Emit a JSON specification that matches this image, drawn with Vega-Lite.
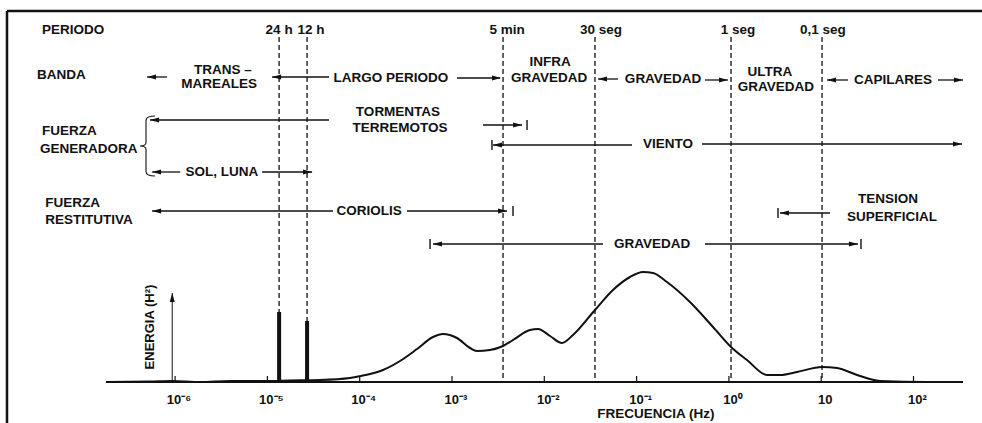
{
  "$schema": "https://vega.github.io/schema/vega-lite/v6.json",
  "width": 975,
  "height": 412,
  "autosize": {"type": "none"},
  "padding": {"left": 7, "top": 11, "right": 0, "bottom": 0},
  "background": "white",
  "config": {"view": {"stroke": null}},
  "datasets": {
    "curva": [
      {"lf": -6.749, "e": 0}, {"lf": -6.271, "e": 0.5}, {"lf": -6.031, "e": 1}, {"lf": -5.73, "e": 0},
      {"lf": -5.405, "e": 1}, {"lf": -5.026, "e": 1}, {"lf": -4.756, "e": 1.5}, {"lf": -4.431, "e": 2},
      {"lf": -4.106, "e": 4}, {"lf": -3.963, "e": 6.5}, {"lf": -3.747, "e": 12}, {"lf": -3.563, "e": 21},
      {"lf": -3.379, "e": 33}, {"lf": -3.206, "e": 45}, {"lf": -3.098, "e": 48}, {"lf": -2.946, "e": 44},
      {"lf": -2.805, "e": 34}, {"lf": -2.729, "e": 31}, {"lf": -2.589, "e": 32}, {"lf": -2.447, "e": 36},
      {"lf": -2.339, "e": 42}, {"lf": -2.155, "e": 52}, {"lf": -2.068, "e": 53}, {"lf": -1.938, "e": 46},
      {"lf": -1.808, "e": 39}, {"lf": -1.689, "e": 47}, {"lf": -1.451, "e": 72}, {"lf": -1.256, "e": 92},
      {"lf": -1.072, "e": 105}, {"lf": -0.931, "e": 110}, {"lf": -0.822, "e": 109}, {"lf": -0.671, "e": 100},
      {"lf": -0.422, "e": 80}, {"lf": -0.172, "e": 55}, {"lf": 0.034, "e": 34}, {"lf": 0.196, "e": 22},
      {"lf": 0.413, "e": 7}, {"lf": 0.553, "e": 7}, {"lf": 0.737, "e": 10}, {"lf": 1.009, "e": 15},
      {"lf": 1.172, "e": 14}, {"lf": 1.388, "e": 7}, {"lf": 1.637, "e": 1}, {"lf": 2.146, "e": 0},
      {"lf": 2.536, "e": 0}
    ],
    "picos": [
      {"periodo": "24 h", "lf": -4.873, "e": 70},
      {"periodo": "12 h", "lf": -4.57, "e": 61}
    ],
    "periodos": [
      {"periodo": "24 h", "lf": -4.873, "v": 345, "v2": 70},
      {"periodo": "12 h", "lf": -4.57, "v": 345, "v2": 61},
      {"periodo": "5 min", "lf": -2.447, "v": 345, "v2": 0},
      {"periodo": "30 seg", "lf": -1.451, "v": 345, "v2": 0},
      {"periodo": "1 seg", "lf": 0.023, "v": 345, "v2": 0},
      {"periodo": "0,1 seg", "lf": 1.009, "v": 345, "v2": 0}
    ],
    "marcas": [
      {"lf": -6, "v": 0, "v2": 6, "etiqueta": "10⁻⁶", "ve": -18},
      {"lf": -5, "v": 0, "v2": 6, "etiqueta": "10⁻⁵", "ve": -18},
      {"lf": -4, "v": 0, "v2": 6, "etiqueta": "10⁻⁴", "ve": -18},
      {"lf": -3, "v": 0, "v2": 6, "etiqueta": "10⁻³", "ve": -18},
      {"lf": -2, "v": 0, "v2": 6, "etiqueta": "10⁻²", "ve": -18},
      {"lf": -1, "v": 0, "v2": 6, "etiqueta": "10⁻¹", "ve": -18},
      {"lf": 0, "v": 0, "v2": 6, "etiqueta": "10⁰", "ve": -18},
      {"lf": 1, "v": 0, "v2": 6, "etiqueta": "10", "ve": -18},
      {"lf": 2, "v": 0, "v2": 6, "etiqueta": "10²", "ve": -18}
    ],
    "segmentos": [
      {"lf": -6.304, "lf2": -6.087, "v": 305},
      {"lf": -4.949, "lf2": -4.332, "v": 305},
      {"lf": -2.946, "lf2": -2.48, "v": 304},
      {"lf": -1.418, "lf2": -1.201, "v": 303},
      {"lf": -0.259, "lf2": -0.01, "v": 302},
      {"lf": 1.063, "lf2": 1.29, "v": 302},
      {"lf": 2.265, "lf2": 2.536, "v": 302},
      {"lf": -6.271, "lf2": -4.332, "v": 262},
      {"lf": -2.664, "lf2": -2.241, "v": 257},
      {"lf": -2.556, "lf2": -1.05, "v": 237},
      {"lf": -0.292, "lf2": 2.525, "v": 238},
      {"lf": -6.249, "lf2": -5.944, "v": 210},
      {"lf": -5.057, "lf2": -4.516, "v": 210},
      {"lf": -6.249, "lf2": -4.289, "v": 171},
      {"lf": -3.488, "lf2": -2.404, "v": 171},
      {"lf": 0.553, "lf2": 1.095, "v": 169},
      {"lf": -3.206, "lf2": -1.364, "v": 138},
      {"lf": -0.259, "lf2": 1.398, "v": 138}
    ],
    "puntas": [
      {"lf": -6.304, "v": 305, "dir": "izq"},
      {"lf": -4.949, "v": 305, "dir": "izq"},
      {"lf": -2.469, "v": 304, "dir": "der"},
      {"lf": -1.418, "v": 303, "dir": "izq"},
      {"lf": -0.01, "v": 302, "dir": "der"},
      {"lf": 1.063, "v": 302, "dir": "izq"},
      {"lf": 2.536, "v": 302, "dir": "der"},
      {"lf": -6.271, "v": 262, "dir": "izq"},
      {"lf": -2.241, "v": 257, "dir": "der"},
      {"lf": -2.556, "v": 237, "dir": "izq"},
      {"lf": 2.525, "v": 238, "dir": "der"},
      {"lf": -6.249, "v": 210, "dir": "izq"},
      {"lf": -4.516, "v": 210, "dir": "der"},
      {"lf": -6.249, "v": 171, "dir": "izq"},
      {"lf": -2.404, "v": 171, "dir": "der"},
      {"lf": 0.553, "v": 169, "dir": "izq"},
      {"lf": -3.206, "v": 138, "dir": "izq"},
      {"lf": 1.398, "v": 138, "dir": "der"},
      {"lf": -6.031, "v": 89, "dir": "arriba"}
    ],
    "topes": [
      {"lf": -2.187, "v": 257},
      {"lf": -2.567, "v": 237},
      {"lf": -2.339, "v": 171},
      {"lf": 0.532, "v": 169},
      {"lf": -3.238, "v": 138},
      {"lf": 1.431, "v": 138}
    ],
    "textos": [
      {"texto": "PERIODO", "lf": -7.442, "v": 352, "grupo": "fila"},
      {"texto": "BANDA", "lf": -7.496, "v": 307, "grupo": "fila"},
      {"texto": "FUERZA", "lf": -7.442, "v": 251, "grupo": "fila"},
      {"texto": "GENERADORA", "lf": -7.463, "v": 233, "grupo": "fila"},
      {"texto": "FUERZA", "lf": -7.407, "v": 179, "grupo": "fila"},
      {"texto": "RESTITUTIVA", "lf": -7.407, "v": 162, "grupo": "fila"},
      {"texto": "24 h", "lf": -4.873, "v": 352, "grupo": "nota"},
      {"texto": "12 h", "lf": -4.527, "v": 352, "grupo": "nota"},
      {"texto": "5 min", "lf": -2.404, "v": 352, "grupo": "nota"},
      {"texto": "30 seg", "lf": -1.386, "v": 352, "grupo": "nota"},
      {"texto": "1 seg", "lf": 0.099, "v": 352, "grupo": "nota"},
      {"texto": "0,1 seg", "lf": 1.019, "v": 352, "grupo": "nota"},
      {"texto": "TRANS –", "lf": -5.481, "v": 312, "grupo": "nota"},
      {"texto": "MAREALES", "lf": -5.524, "v": 298, "grupo": "nota"},
      {"texto": "LARGO PERIODO", "lf": -3.661, "v": 304, "grupo": "nota"},
      {"texto": "INFRA", "lf": -1.938, "v": 320, "grupo": "nota"},
      {"texto": "GRAVEDAD", "lf": -1.949, "v": 304, "grupo": "nota"},
      {"texto": "GRAVEDAD", "lf": -0.714, "v": 303, "grupo": "nota"},
      {"texto": "ULTRA", "lf": 0.445, "v": 310, "grupo": "nota"},
      {"texto": "GRAVEDAD", "lf": 0.51, "v": 295, "grupo": "nota"},
      {"texto": "CAPILARES", "lf": 1.778, "v": 302, "grupo": "nota"},
      {"texto": "TORMENTAS", "lf": -3.585, "v": 270, "grupo": "nota"},
      {"texto": "TERREMOTOS", "lf": -3.563, "v": 254, "grupo": "nota"},
      {"texto": "VIENTO", "lf": -0.66, "v": 238, "grupo": "nota"},
      {"texto": "SOL, LUNA", "lf": -5.492, "v": 210, "grupo": "nota"},
      {"texto": "CORIOLIS", "lf": -3.898, "v": 171, "grupo": "nota"},
      {"texto": "TENSION", "lf": 1.724, "v": 183, "grupo": "nota"},
      {"texto": "SUPERFICIAL", "lf": 1.767, "v": 165, "grupo": "nota"},
      {"texto": "GRAVEDAD", "lf": -0.833, "v": 138, "grupo": "nota"},
      {"texto": "FRECUENCIA (Hz)", "lf": -0.79, "v": -32, "grupo": "nota"}
    ]
  },
  "layer": [
    {
      "data": {"values": [{"v": 371}]},
      "mark": {"type": "rule", "strokeWidth": 2.5, "color": "#111"},
      "encoding": {
        "y": {"field": "v", "type": "quantitative", "axis": null, "scale": {"domain": [-41, 371], "nice": false, "zero": false}}
      }
    },
    {
      "data": {"values": [{"lf": -7.821}]},
      "mark": {"type": "rule", "strokeWidth": 2.5, "color": "#111"},
      "encoding": {
        "x": {"field": "lf", "type": "quantitative", "axis": null, "scale": {"domain": [-7.821, 2.742], "nice": false, "zero": false}}
      }
    },
    {
      "data": {"name": "periodos"},
      "mark": {"type": "rule", "strokeWidth": 1.4, "strokeDash": [5, 3], "color": "#222"},
      "encoding": {
        "x": {"field": "lf", "type": "quantitative", "axis": null, "scale": {"domain": [-7.821, 2.742], "nice": false, "zero": false}},
        "y": {"field": "v", "type": "quantitative", "axis": null, "scale": {"domain": [-41, 371], "nice": false, "zero": false}},
        "y2": {"field": "v2"}
      }
    },
    {
      "data": {"values": [{"lf": -6.749, "lf2": 2.536, "v": 0}]},
      "mark": {"type": "rule", "strokeWidth": 2, "color": "#111"},
      "encoding": {
        "x": {"field": "lf", "type": "quantitative", "axis": null, "scale": {"domain": [-7.821, 2.742], "nice": false, "zero": false}},
        "x2": {"field": "lf2"},
        "y": {"field": "v", "type": "quantitative", "axis": null, "scale": {"domain": [-41, 371], "nice": false, "zero": false}}
      }
    },
    {
      "data": {"name": "marcas"},
      "mark": {"type": "rule", "strokeWidth": 1.2, "color": "#111"},
      "encoding": {
        "x": {"field": "lf", "type": "quantitative", "axis": null, "scale": {"domain": [-7.821, 2.742], "nice": false, "zero": false}},
        "y": {"field": "v", "type": "quantitative", "axis": null, "scale": {"domain": [-41, 371], "nice": false, "zero": false}},
        "y2": {"field": "v2"}
      }
    },
    {
      "data": {"name": "marcas"},
      "mark": {"type": "text", "align": "center", "baseline": "middle", "dx": 4, "font": "Liberation Sans", "fontWeight": "bold", "fontSize": 13, "color": "#111"},
      "encoding": {
        "x": {"field": "lf", "type": "quantitative", "axis": null, "scale": {"domain": [-7.821, 2.742], "nice": false, "zero": false}},
        "y": {"field": "ve", "type": "quantitative", "axis": null, "scale": {"domain": [-41, 371], "nice": false, "zero": false}},
        "text": {"field": "etiqueta"}
      }
    },
    {
      "data": {"values": [{"lf": -6.031, "v": 0, "v2": 89}]},
      "mark": {"type": "rule", "strokeWidth": 1, "color": "#111"},
      "encoding": {
        "x": {"field": "lf", "type": "quantitative", "axis": null, "scale": {"domain": [-7.821, 2.742], "nice": false, "zero": false}},
        "y": {"field": "v", "type": "quantitative", "axis": null, "scale": {"domain": [-41, 371], "nice": false, "zero": false}},
        "y2": {"field": "v2"}
      }
    },
    {
      "data": {"name": "picos"},
      "mark": {"type": "rule", "strokeWidth": 4, "color": "#111"},
      "encoding": {
        "x": {"field": "lf", "type": "quantitative", "axis": null, "scale": {"domain": [-7.821, 2.742], "nice": false, "zero": false}},
        "y": {"field": "e", "type": "quantitative", "axis": null, "scale": {"domain": [-41, 371], "nice": false, "zero": false}},
        "y2": {"datum": 0}
      }
    },
    {
      "data": {"name": "curva"},
      "mark": {"type": "line", "interpolate": "monotone", "strokeWidth": 2, "color": "#111"},
      "encoding": {
        "x": {"field": "lf", "type": "quantitative", "axis": null, "scale": {"domain": [-7.821, 2.742], "nice": false, "zero": false}},
        "y": {"field": "e", "type": "quantitative", "axis": null, "scale": {"domain": [-41, 371], "nice": false, "zero": false}}
      }
    },
    {
      "data": {"name": "segmentos"},
      "mark": {"type": "rule", "strokeWidth": 1.3, "color": "#111"},
      "encoding": {
        "x": {"field": "lf", "type": "quantitative", "axis": null, "scale": {"domain": [-7.821, 2.742], "nice": false, "zero": false}},
        "x2": {"field": "lf2"},
        "y": {"field": "v", "type": "quantitative", "axis": null, "scale": {"domain": [-41, 371], "nice": false, "zero": false}}
      }
    },
    {
      "data": {"name": "puntas"},
      "mark": {"type": "point", "filled": true, "size": 81, "opacity": 1, "color": "#111"},
      "encoding": {
        "x": {"field": "lf", "type": "quantitative", "axis": null, "scale": {"domain": [-7.821, 2.742], "nice": false, "zero": false}},
        "y": {"field": "v", "type": "quantitative", "axis": null, "scale": {"domain": [-41, 371], "nice": false, "zero": false}},
        "shape": {
          "field": "dir", "type": "nominal", "legend": null,
          "scale": {"domain": ["izq", "der", "arriba"], "range": ["M0,0L2,-0.55L2,0.55Z", "M0,0L-2,-0.55L-2,0.55Z", "M0,0L-0.55,2L0.55,2Z"]}
        }
      }
    },
    {
      "data": {"name": "topes"},
      "mark": {"type": "point", "shape": "M0,-1L0,1", "size": 100, "filled": false, "strokeWidth": 1.4, "opacity": 1, "color": "#111"},
      "encoding": {
        "x": {"field": "lf", "type": "quantitative", "axis": null, "scale": {"domain": [-7.821, 2.742], "nice": false, "zero": false}},
        "y": {"field": "v", "type": "quantitative", "axis": null, "scale": {"domain": [-41, 371], "nice": false, "zero": false}}
      }
    },
    {
      "data": {"values": [{"lf": -6.315, "v": 236}]},
      "mark": {"type": "point", "shape": "M0.3,-1Q0,-1 0,-0.85L0,-0.12Q0,0 -0.2,0Q0,0 0,0.12L0,0.85Q0,1 0.3,1", "size": 3600, "filled": false, "strokeWidth": 1.1, "opacity": 1, "color": "#111"},
      "encoding": {
        "x": {"field": "lf", "type": "quantitative", "axis": null, "scale": {"domain": [-7.821, 2.742], "nice": false, "zero": false}},
        "y": {"field": "v", "type": "quantitative", "axis": null, "scale": {"domain": [-41, 371], "nice": false, "zero": false}}
      }
    },
    {
      "data": {"name": "textos"},
      "transform": [{"filter": "datum.grupo == 'fila'"}],
      "mark": {"type": "text", "align": "left", "baseline": "middle", "font": "Liberation Sans", "fontWeight": "bold", "fontSize": 13.5, "color": "#111"},
      "encoding": {
        "x": {"field": "lf", "type": "quantitative", "axis": null, "scale": {"domain": [-7.821, 2.742], "nice": false, "zero": false}},
        "y": {"field": "v", "type": "quantitative", "axis": null, "scale": {"domain": [-41, 371], "nice": false, "zero": false}},
        "text": {"field": "texto"}
      }
    },
    {
      "data": {"name": "textos"},
      "transform": [{"filter": "datum.grupo == 'nota'"}],
      "mark": {"type": "text", "align": "center", "baseline": "middle", "font": "Liberation Sans", "fontWeight": "bold", "fontSize": 13.5, "color": "#111"},
      "encoding": {
        "x": {"field": "lf", "type": "quantitative", "axis": null, "scale": {"domain": [-7.821, 2.742], "nice": false, "zero": false}},
        "y": {"field": "v", "type": "quantitative", "axis": null, "scale": {"domain": [-41, 371], "nice": false, "zero": false}},
        "text": {"field": "texto"}
      }
    },
    {
      "data": {"values": [{"texto": "ENERGIA (H²)", "lf": -6.271, "v": 55}]},
      "mark": {"type": "text", "align": "center", "baseline": "middle", "angle": 270, "font": "Liberation Sans", "fontWeight": "bold", "fontSize": 13, "color": "#111"},
      "encoding": {
        "x": {"field": "lf", "type": "quantitative", "axis": null, "scale": {"domain": [-7.821, 2.742], "nice": false, "zero": false}},
        "y": {"field": "v", "type": "quantitative", "axis": null, "scale": {"domain": [-41, 371], "nice": false, "zero": false}},
        "text": {"field": "texto"}
      }
    }
  ]
}
